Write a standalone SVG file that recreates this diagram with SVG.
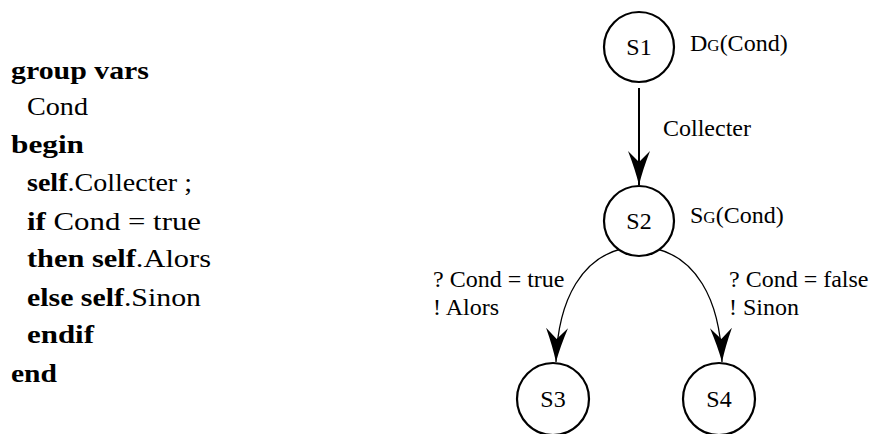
<svg xmlns="http://www.w3.org/2000/svg" width="872" height="434" viewBox="0 0 872 434">
<style>
  .code { font-size: 26px; }
  .b { font-weight: bold; }
  .lbl { font-size: 24px; }
  .sc { font-size: 17px; }
  .state { fill: #fff; stroke: #000; stroke-width: 2.2; }
  .edge { fill: none; stroke: #000; }
</style>
<defs>
  <marker id="arr" viewBox="0 0 34 22" refX="34" refY="11" markerWidth="34" markerHeight="22" markerUnits="userSpaceOnUse" orient="auto">
    <path d="M0,0 Q18,7 34,11 Q18,15 0,22 L11,11 z" fill="#000"/>
  </marker>
</defs>
<rect width="872" height="434" fill="#fff"/>

<g id="code">
  <text class="code b" font-family="Liberation Serif" x="11" y="79" textLength="138" lengthAdjust="spacingAndGlyphs">group vars</text>
  <text class="code" font-family="Liberation Serif" x="27" y="115" textLength="61" lengthAdjust="spacingAndGlyphs">Cond</text>
  <text class="code b" font-family="Liberation Serif" x="11" y="153" textLength="73" lengthAdjust="spacingAndGlyphs">begin</text>
  <text class="code" font-family="Liberation Serif" x="27" y="191" textLength="165" lengthAdjust="spacingAndGlyphs"><tspan class="b">self</tspan>.Collecter ;</text>
  <text class="code" font-family="Liberation Serif" x="27" y="230" textLength="174" lengthAdjust="spacingAndGlyphs"><tspan class="b">if</tspan> Cond = true</text>
  <text class="code" font-family="Liberation Serif" x="27" y="267" textLength="184" lengthAdjust="spacingAndGlyphs"><tspan class="b">then self</tspan>.Alors</text>
  <text class="code" font-family="Liberation Serif" x="27" y="306" textLength="174" lengthAdjust="spacingAndGlyphs"><tspan class="b">else self</tspan>.Sinon</text>
  <text class="code b" font-family="Liberation Serif" x="27" y="343" textLength="67" lengthAdjust="spacingAndGlyphs">endif</text>
  <text class="code b" font-family="Liberation Serif" x="11" y="382" textLength="46" lengthAdjust="spacingAndGlyphs">end</text>
</g>

<g id="connectors">
  <path class="edge" d="M639,88 L639,185" stroke-width="2" marker-end="url(#arr)"/>
  <path class="edge" d="M621,249 C585,258 558,295 556,362" stroke-width="1.3" marker-end="url(#arr)"/>
  <path class="edge" d="M657,249 C693,258 720,295 722,362" stroke-width="1.3" marker-end="url(#arr)"/>
  <text class="lbl" font-family="Liberation Serif" x="663" y="136">Collecter</text>
  <text class="lbl" font-family="Liberation Serif" x="433" y="287">? Cond = true</text>
  <text class="lbl" font-family="Liberation Serif" x="433" y="315">! Alors</text>
  <text class="lbl" font-family="Liberation Serif" x="729" y="287">? Cond = false</text>
  <text class="lbl" font-family="Liberation Serif" x="729" y="315">! Sinon</text>
</g>

<g id="S1">
  <circle class="state" cx="639" cy="47" r="35"/>
  <text class="lbl" font-family="Liberation Serif" x="639" y="55" text-anchor="middle">S1</text>
  <text class="lbl" font-family="Liberation Serif" x="690" y="51">D<tspan class="sc">G</tspan>(Cond)</text>
</g>
<g id="S2">
  <circle class="state" cx="639" cy="221" r="35"/>
  <text class="lbl" font-family="Liberation Serif" x="639" y="229" text-anchor="middle">S2</text>
  <text class="lbl" font-family="Liberation Serif" x="690" y="223">S<tspan class="sc">G</tspan>(Cond)</text>
</g>
<g id="S3">
  <circle class="state" cx="553" cy="399" r="36"/>
  <text class="lbl" font-family="Liberation Serif" x="553" y="407" text-anchor="middle">S3</text>
</g>
<g id="S4">
  <circle class="state" cx="719" cy="399" r="36"/>
  <text class="lbl" font-family="Liberation Serif" x="719" y="407" text-anchor="middle">S4</text>
</g>
</svg>
